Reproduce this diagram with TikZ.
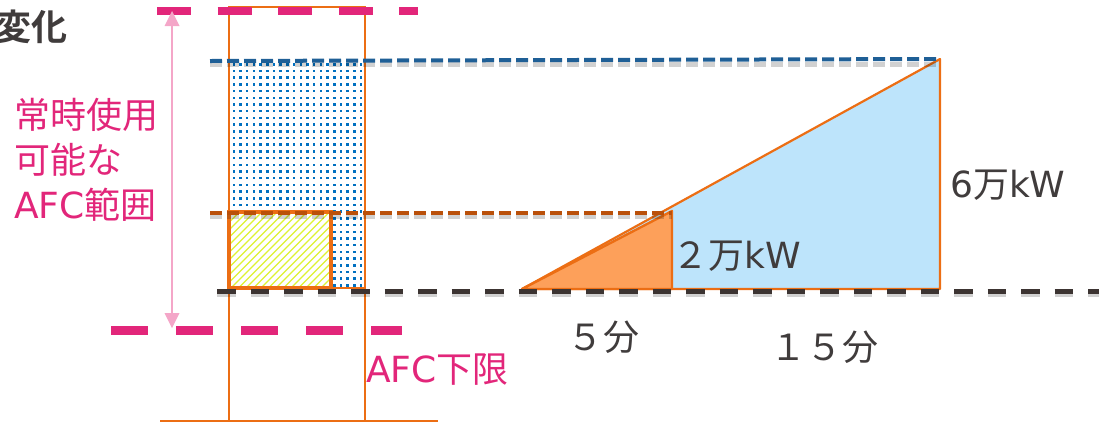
\documentclass[tikz,border=0pt]{standalone}
\usepackage{fontspec}
\newfontfamily\jp{Noto Sans CJK JP}
\newfontfamily\jpb{Noto Sans CJK JP Bold}
\newfontfamily\lt{DejaVu Sans}
\definecolor{mag}{RGB}{226,38,122}
\definecolor{pinkarrow}{RGB}{244,166,200}
\definecolor{colorange}{RGB}{236,110,20}
\definecolor{dotblue}{RGB}{0,112,192}
\definecolor{dashblue}{RGB}{31,95,150}
\definecolor{dashbrown}{RGB}{186,80,10}
\definecolor{dashblack}{RGB}{60,52,50}
\definecolor{hatchyel}{RGB}{222,242,50}
\definecolor{lightblue}{RGB}{189,228,251}
\definecolor{tri}{RGB}{253,160,90}
\definecolor{txtgray}{RGB}{64,60,60}
\tikzset{
  magdash/.style={mag, line width=8.5pt},
  orangeline/.style={colorange, line width=2.4pt},
  shadowline/.style={black, opacity=0.18, line width=5pt},
  lbl/.style={inner sep=0pt, anchor=base west, txtgray},
  maglbl/.style={inner sep=0pt, anchor=base west, mag},
}
\begin{document}
\begin{tikzpicture}[x=1pt,y=-1pt]
\useasboundingbox (0,0) rectangle (1099,424);

% dotted area
\begin{scope}
\clip (231,62) rectangle (363,288);
\foreach \i in {0,...,20}
  \foreach \j in {0,...,34}
    \fill[dotblue] (232.5+\i*6.7, 63+\j*6.7) rectangle ++(2.5,2.5);
\end{scope}
\draw[orangeline] (331,288) -- (365,288);

% hatched area
\begin{scope}
\clip (229,212) rectangle (331,288);
\fill[white] (229,212) rectangle (331,288);
\foreach \k in {-90,-82.5,...,110}
  \draw[hatchyel, line width=1.2pt] (229+\k,290) -- ++(84,-84);
\end{scope}
\draw[colorange, line width=3.4pt] (229,212) rectangle (331,288);

% column
\draw[orangeline] (229,421) -- (229,7) -- (365,7) -- (365,421);
\draw[orangeline] (160,421) -- (438,421);

% triangles
\draw[colorange, line width=2.2pt, fill=lightblue, line join=round]
  (522,289) coordinate (t0) -- (940,59) coordinate (t1) -- (940,289) coordinate (t2) -- cycle;
\draw[colorange, line width=2.4pt, fill=tri, line join=round]
  (t0) -- (672,211) coordinate (s1) -- (672,289) coordinate (s2) -- cycle;

% dashed lines with shadows
\draw[shadowline, dash pattern=on 12pt off 5pt] (210,64) -- (940,64);
\draw[dashblue, line width=4pt, dash pattern=on 12pt off 5pt] (210,61) coordinate (bl0) -- (t1);
\draw[shadowline, dash pattern=on 12pt off 5pt] (210,216) -- (672,216);
\draw[dashbrown, line width=4pt, dash pattern=on 12pt off 5pt] (210,213) coordinate (br0) -- (672,213);
\draw[shadowline, dash pattern=on 18.5pt off 15pt] (217,294.5) -- (1099,294.5);
\draw[dashblack, line width=5pt, dash pattern=on 18.5pt off 15pt] (217,291) coordinate (bk0) -- (1099,291);

% magenta dashed limits
\draw[magdash, dash pattern=on 34pt off 26.5pt] (157,11) -- (418,11);
\draw[magdash, dash pattern=on 37pt off 28pt] (111,330.5) -- (402,330.5);

% arrow
\coordinate (atop) at (172,11);
\coordinate (abot) at (172,328);
\draw[pinkarrow, line width=2.4pt] (172,24) -- (172,314);
\fill[pinkarrow] (atop) -- (164.5,26) -- (179.5,26) -- cycle;
\fill[pinkarrow] (abot) -- (164.5,313) -- (179.5,313) -- cycle;

% labels
\node[inner sep=0pt, anchor=base east, txtgray] (henka) at (68,40) {\fontsize{36}{36}\selectfont\jpb 変化};
\node[maglbl] (l1) at (14,128) {\fontsize{36}{36}\selectfont\jp 常時使用};
\node[maglbl] (l2) at (14,173) {\fontsize{36}{36}\selectfont\jp 可能な};
\node[maglbl] (l3) at (14,218) {\fontsize{36}{36}\selectfont{\lt AFC}{\jp 範囲}};
\node[maglbl] (afc) at (366,382) {\fontsize{36}{36}\selectfont{\lt AFC}{\jp 下限}};
\node[lbl] (six) at (950,197) {\fontsize{36}{36}\selectfont{\lt 6}{\jp 万}{\lt kW}};
\node[lbl] (two) at (672,268) {\fontsize{36}{36}\selectfont{\jp ２万}{\lt kW}};
\node[lbl] (five) at (567,350) {\fontsize{36}{36}\selectfont\jp ５分};
\node[lbl] (fifteen) at (770,360) {\fontsize{36}{36}\selectfont\jp １５分};
\end{tikzpicture}
\end{document}
